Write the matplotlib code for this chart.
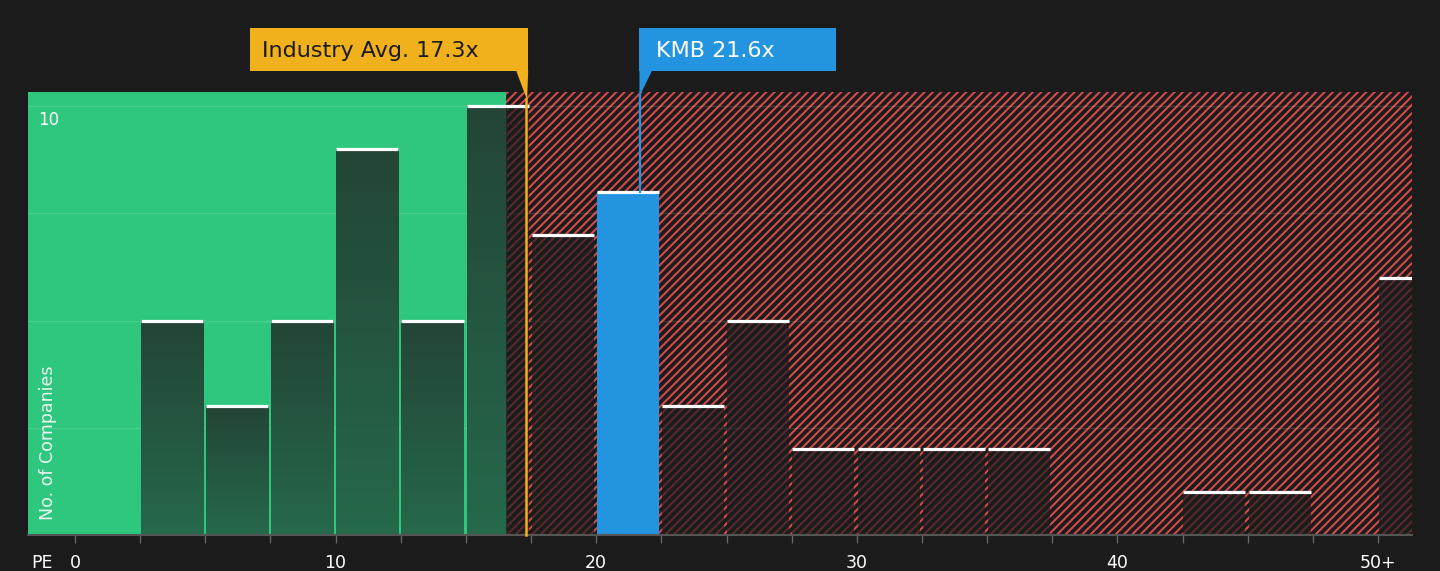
import numpy as np
import matplotlib
matplotlib.use("Agg")
import matplotlib.pyplot as plt
from matplotlib.patches import Rectangle, Polygon
from matplotlib.colors import LinearSegmentedColormap

# PE ratio histogram, bins of 2.5 (last bin is 50+)
bin_starts = [0, 2.5, 5, 7.5, 10, 12.5, 15, 17.5, 20, 22.5, 25, 27.5, 30,
              32.5, 35, 37.5, 40, 42.5, 45, 47.5, 50]
counts = [0, 5, 3, 5, 9, 5, 10, 7, 8, 3, 5, 2, 2, 2, 2, 0, 0, 1, 1, 0, 6]
tick_pos = [0, 10, 20, 30, 40, 50]
tick_labels = ["0", "10", "20", "30", "40", "50+"]

industry_avg = 17.3
company = "KMB"
company_pe = 21.6
company_bin = 20
green_end = 16.55

bg = "#1b1b1b"
green = "#2ec77d"
red = "#d04a4c"
blue = "#2394e0"
orange = "#f0b11c"

plt.rcParams["hatch.linewidth"] = 1.5
fig = plt.figure(figsize=(14.4, 5.71), dpi=100, facecolor=bg)
ax = fig.add_axes([28 / 1440, 36 / 571, 1384 / 1440, 443 / 571])
ax.set_facecolor(bg)

xmin, xmax, ymax = -1.8, 51.3, 10.33

# background zones
ax.add_patch(Rectangle((xmin, 0), green_end - xmin, ymax, facecolor=green,
                       lw=0, zorder=0))
ax.add_patch(Rectangle((green_end, 0), 60, ymax, facecolor=bg, edgecolor=red,
                       hatch="////", lw=0, zorder=0))

for g in [2.5, 5, 7.5, 10]:
    ax.axhline(g, color="white", alpha=0.12, lw=1, zorder=1)

grad_cmap = LinearSegmentedColormap.from_list("g", ["#26694b", "#234536"])
grad = np.linspace(0, 1, 256).reshape(-1, 1)

w = 2.38
for s, c in zip(bin_starts, counts):
    if c == 0:
        continue
    x0, x1 = s + 0.03, s + 0.03 + w
    if s == company_bin:
        ax.add_patch(Rectangle((x0, 0), w, c, facecolor=blue, lw=0, zorder=2))
    else:
        if x0 < green_end:
            gx1 = min(x1, green_end)
            ax.imshow(grad, extent=[x0, gx1, 0, c], aspect="auto", origin="lower",
                      cmap=grad_cmap, zorder=2, interpolation="bilinear")
        if x1 > green_end:
            rx0 = max(x0, green_end)
            ax.add_patch(Rectangle((rx0, 0), x1 - rx0, c,
                                   facecolor=(0.11, 0.11, 0.11, 0.68), lw=0, zorder=2))
    ax.plot([x0, x1], [c, c], color="white", lw=2.3, solid_capstyle="butt", zorder=3)

xt = ax.get_xaxis_transform()

# industry average marker
ax.plot([industry_avg + 0.02] * 2, [0, 0.985], transform=xt, color=orange,
        lw=1.8, zorder=4, clip_on=False)
ax.add_patch(Rectangle((industry_avg + 0.09 - 10.67, 1.0474), 10.67, 0.097,
                       transform=xt, facecolor=orange, lw=0, clip_on=False, zorder=5))
ax.add_patch(Polygon([(industry_avg - 0.37, 1.048), (industry_avg + 0.09, 1.048),
                      (industry_avg + 0.05, 0.982)], closed=True, transform=xt,
                     facecolor=orange, lw=0, clip_on=False, zorder=5))
ax.text(industry_avg - 10.12, 1.092, f"Industry Avg. {industry_avg}x", transform=xt,
        fontsize=16, color="#1b1b1b", va="center", ha="left", zorder=6)

# company marker
cx = company_pe + 0.09
ax.plot([cx, cx], [counts[bin_starts.index(company_bin)] / ymax, 0.995],
        transform=xt, color=blue, lw=1.6, zorder=4, clip_on=False)
ax.add_patch(Rectangle((cx - 0.03, 1.0474), 7.55, 0.097, transform=xt,
                       facecolor=blue, lw=0, clip_on=False, zorder=5))
ax.add_patch(Polygon([(cx - 0.03, 1.048), (cx + 0.45, 1.048), (cx - 0.03, 0.99)],
                     closed=True, transform=xt, facecolor=blue, lw=0,
                     clip_on=False, zorder=5))
ax.text(cx + 0.6, 1.092, f"{company} {company_pe}x", transform=xt, fontsize=16,
        color="white", va="center", ha="left", zorder=6)

# axis labels
ax.text(-1.42, 0.937 * ymax, "10", color="white", fontsize=12, va="center", ha="left")
ax.text(-1.04, 0.34, "No. of Companies", color="white", alpha=0.9, fontsize=12.5,
        rotation=90, ha="center", va="bottom")
ax.text(0.002, -0.063, "PE", transform=ax.transAxes, color="white", fontsize=12.5,
        ha="left", va="center")

ax.set_xlim(xmin, xmax)
ax.set_ylim(0, ymax)
ax.set_xticks(np.arange(0, 51, 2.5))
ax.set_xticklabels([tick_labels[tick_pos.index(t)] if t in tick_pos else ""
                    for t in np.arange(0, 51, 2.5)])
ax.tick_params(axis="x", colors="#666666", length=6, width=1, pad=8,
               labelcolor="white", labelsize=12.5)
ax.set_yticks([])
for side in ["top", "right", "left"]:
    ax.spines[side].set_visible(False)
ax.spines["bottom"].set_color("#555555")
ax.spines["bottom"].set_linewidth(1.5)

fig.savefig("out.png", dpi=100, facecolor=bg)
